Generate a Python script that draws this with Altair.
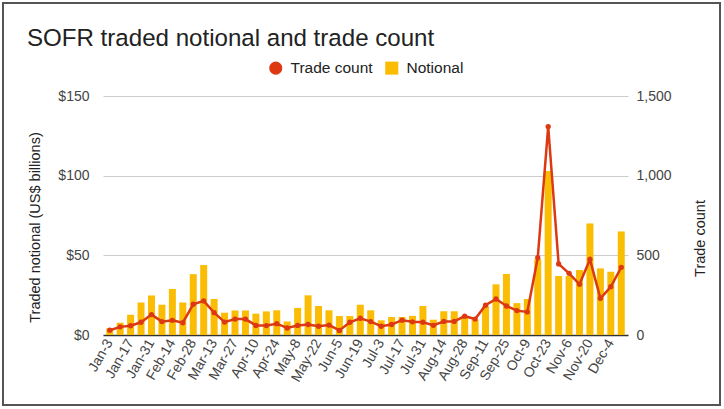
import altair as alt
import pandas as pd

weeks = ["Jan-3", "Jan-10", "Jan-17", "Jan-24", "Jan-31", "Feb-7", "Feb-14", "Feb-21",
         "Feb-28", "Mar-6", "Mar-13", "Mar-20", "Mar-27", "Apr-3", "Apr-10", "Apr-17",
         "Apr-24", "May-1", "May-8", "May-15", "May-22", "May-29", "Jun-5", "Jun-12",
         "Jun-19", "Jun-26", "Jul-3", "Jul-10", "Jul-17", "Jul-24", "Jul-31", "Aug-7",
         "Aug-14", "Aug-21", "Aug-28", "Sep-4", "Sep-11", "Sep-18", "Sep-25", "Oct-2",
         "Oct-9", "Oct-16", "Oct-23", "Oct-30", "Nov-6", "Nov-13", "Nov-20", "Nov-27",
         "Dec-4", "Dec-11"]

notional = [4.1, 7.7, 12.7, 20.4, 24.8, 19, 28.9, 20.4, 38.2, 43.9,
            22.6, 14, 15.4, 15.4, 13.4, 14.8, 15.5, 8.5, 17, 24.9,
            18.2, 15.5, 11.9, 11.9, 19, 15.5, 9.2, 11.3, 11.3, 12,
            18.2, 9.6, 14.9, 14.9, 12, 9.6, 18, 31.8, 38.3, 20,
            22.6, 47.5, 103, 37, 37, 40.8, 70, 41.8, 39.7, 65]

trade_count = [30, 51, 58, 80, 128, 84, 92, 77, 193, 214,
               140, 81, 100, 100, 60, 59, 71, 44, 60, 66,
               55, 62, 29, 80, 105, 84, 55, 66, 93, 83,
               80, 61, 85, 85, 118, 100, 187, 226, 182, 153,
               145, 485, 1308, 446, 387, 318, 475, 230, 303, 425]

tick_labels = weeks[::2]
series_names = ["Trade count", "Notional"]
series_colors = ["#dc3912", "#fbbc04"]

df = pd.DataFrame({"week": weeks, "notional": notional, "trades": trade_count})

FONT = "Liberation Sans"
W, H = 525, 239

color_scale = alt.Scale(domain=series_names, range=series_colors)
legend = alt.Legend(orient="none", legendX=165, legendY=-36, direction="horizontal",
                    padding=0, symbolSize=170, labelFontSize=15.5, labelFont=FONT,
                    labelColor="#222222", labelOffset=7, columnPadding=11,
                    symbolStrokeWidth=0, symbolOpacity=1)

base = alt.Chart(df).encode(
    x=alt.X("week:N", sort=weeks,
            scale=alt.Scale(paddingInner=0.33, paddingOuter=0.31),
            axis=alt.Axis(values=tick_labels, labelAngle=-60, labelFontSize=14,
                          labelFont=FONT, labelColor="#444444", ticks=False,
                          domain=True, domainColor="#333333", domainWidth=1.5,
                          grid=False, title=None, labelPadding=5))
)

bars = base.transform_calculate(series="'Notional'").mark_bar().encode(
    y=alt.Y("notional:Q", scale=alt.Scale(domain=[0, 150], nice=False),
            axis=alt.Axis(values=[0, 50, 100, 150], labelExpr="'$' + datum.value",
                          labelFontSize=14, labelFont=FONT, labelColor="#444444",
                          labelPadding=14, gridColor="#cccccc", domain=False, ticks=False,
                          title="Traded notional (US$ billions)", titleFontSize=14.5,
                          titleFont=FONT, titleFontWeight="normal", titleColor="#222222",
                          titleX=-68, titleY=131, titleBaseline="middle", titleAngle=270)),
    color=alt.Color("series:N", scale=color_scale, legend=legend, title=None),
)

line = base.mark_line(color="#dc3912", strokeWidth=2.5).encode(
    y=alt.Y("trades:Q", scale=alt.Scale(domain=[0, 1500], nice=False),
            axis=alt.Axis(orient="right", values=[0, 500, 1000, 1500], format=",.0f",
                          labelFontSize=14, labelFont=FONT, labelColor="#444444",
                          labelPadding=8, grid=False, domain=False, ticks=False,
                          title="Trade count", titleFontSize=14.5, titleFont=FONT,
                          titleFontWeight="normal", titleColor="#222222",
                          titleX=72, titleY=142, titleBaseline="middle", titleAngle=270)),
)

points = base.transform_calculate(series="'Trade count'").mark_point(
    filled=True, size=28, opacity=1).encode(
    y=alt.Y("trades:Q"),
    color=alt.Color("series:N", scale=color_scale, legend=legend, title=None),
    shape=alt.Shape("series:N", scale=alt.Scale(domain=series_names, range=["circle", "square"]),
                    legend=legend, title=None),
)

border = alt.Chart(pd.DataFrame({"k": [0]})).mark_rect(
    fill=None, stroke="#555555", strokeWidth=2).encode(
    x=alt.value(-100), x2=alt.value(617), y=alt.value(-93), y2=alt.value(309))

chart = alt.layer(
    border,
    bars,
    alt.layer(line, points),
).resolve_scale(y="independent").properties(
    width=W, height=H,
    padding={"left": 103, "top": 96, "right": 96, "bottom": 74},
    autosize=alt.AutoSizeParams(type="none"),
    background="white",
    title=alt.TitleParams("SOFR traded notional and trade count", anchor="start",
                          font=FONT, fontSize=24.1, fontWeight="normal", color="#222222",
                          dx=25, dy=53),
).configure_view(stroke=None)

chart.save("out.html", embed_options={"renderer": "svg", "actions": False})
